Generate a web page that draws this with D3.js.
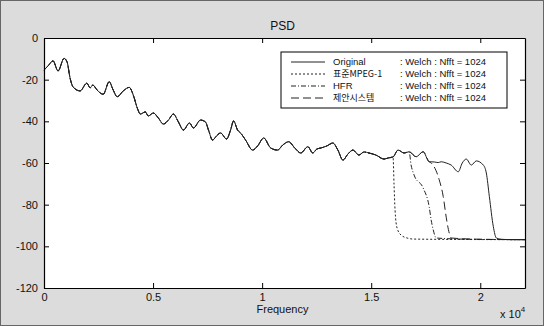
<!DOCTYPE html>
<html>
<head>
<meta charset="utf-8">
<script src="https://cdn.jsdelivr.net/npm/d3@7/dist/d3.min.js"></script>
<style>
  body { margin: 0; background: #fff; }
  svg { display: block; }
  text { font-family: "Liberation Sans", Arial, sans-serif; fill: #111; }
  .kr { font-family: "Noto Sans CJK KR", "Liberation Sans", sans-serif; }
</style>
</head>
<body>
<div id="chart"></div>
<script>
// PSD of the original signal (Hz, dB)
const freqOriginal = [0, 184, 414, 644, 920, 1058, 1195, 1333, 1655, 1963, 2115, 2239, 2437, 2713, 2989, 3173,
  3357, 3632, 3908, 4092, 4276, 4414, 4644, 4782, 5012, 5242, 5472, 5702, 5932, 6161, 6391, 6667, 6851, 7173,
  7403, 7541, 7725, 7909, 8093, 8369, 8553, 8691, 8875, 9013, 9242, 9564, 9794, 10070, 10392, 10713, 10943,
  11219, 11495, 11771, 12093, 12323, 12507, 12691, 12967, 13242, 13472, 13702, 13932, 14162, 14438, 14668,
  14897, 15219, 15587, 15771, 16001, 16231, 16507, 16737, 17059, 17381, 17657, 17887, 18070, 18208, 18438,
  18668, 18990, 19174, 19358, 19588, 19818, 20139, 20277, 20415, 20599, 20737, 20967, 21500, 22050];
const dbOriginal = [-15.4, -13.4, -11, -15.8, -9.8, -11.5, -19.2, -23.5, -25.4, -21.7, -23.9, -22.6, -25, -27, -21, -25,
  -28.2, -25.4, -23.7, -27.4, -33.6, -36.5, -35.5, -37.4, -36, -38.4, -41.3, -39.4, -36.5, -40.3, -44.2, -40.8, -43.2, -39.4,
  -40.3, -44.2, -49, -47, -45.6, -48.5, -44.2, -39.8, -44.2, -45.6, -49, -53.8, -51.8, -48, -52.8, -53.8, -51.4,
  -49.8, -52.8, -55.2, -52.2, -55.2, -53.3, -52.8, -51.8, -50.4, -53.8, -58.6, -55.7, -53.8, -56.2, -54.7,
  -55.2, -56.2, -58.1, -57.6, -57.1, -53.8, -55.2, -54.6, -57, -54.6, -59.4, -59.5, -59.8, -59.4, -60,
  -61, -64.2, -60, -58.1, -61, -59, -61, -64.8, -76, -90.6, -96, -96.6, -96.8, -96.8];

// the coded versions follow the original, then roll off (Hz, dB)
const freqMpegTail = [16047, 16093, 16185, 16369, 16645, 16921, 19000, 22050];
const dbMpegTail = [-70.6, -82.6, -91.2, -94.6, -96, -96.5, -96.7, -96.8];
const freqHfrTail = [16829, 16967, 17381, 17657, 17749, 17841, 17979, 19500, 22050];
const dbHfrTail = [-61, -65.8, -72, -81, -87.4, -92, -96, -96.6, -96.8];
const freqProposedTail = [17749, 18116, 18300, 18438, 18576, 18668, 20000, 22050];
const dbProposedTail = [-60, -68, -76, -86, -93.6, -96, -96.6, -96.8];

const seriesNames = ["Original", "표준MPEG-1", "HFR", "제안시스템"];
const legendNote = ": Welch : Nfft = 1024";
const xTicks = [0, 5000, 10000, 15000, 20000];
const xTickLabels = ["0", "0.5", "1", "1.5", "2"];
const yTicks = [0, -20, -40, -60, -80, -100, -120];

const width = 544, height = 326;
const margin = { top: 38, right: 19, bottom: 38, left: 44 };
const plotW = width - margin.left - margin.right;
const plotH = height - margin.top - margin.bottom;

const svg = d3.select("#chart").append("svg")
  .attr("width", width)
  .attr("height", height);

// scanned-looking figure background
svg.append("rect")
  .attr("width", width).attr("height", height)
  .attr("fill", "#dcdcdc")
  .attr("stroke", "#666").attr("stroke-width", 2);

const g = svg.append("g")
  .attr("transform", "translate(" + margin.left + "," + margin.top + ")");

g.append("rect").attr("width", plotW).attr("height", plotH).attr("fill", "#fff");

const x = d3.scaleLinear().domain([0, 22050]).range([0, plotW]);
const y = d3.scaleLinear().domain([-120, 0]).range([plotH, 0]);

const zip = (fs, ds) => fs.map((f, i) => ({ f: f, db: ds[i] }));
const original = zip(freqOriginal, dbOriginal);
const withTail = (fs, ds) => original.filter(d => d.f < fs[0]).concat(zip(fs, ds));

const series = [
  { name: seriesNames[0], values: original, dash: null },
  { name: seriesNames[1], values: withTail(freqMpegTail, dbMpegTail), dash: "2,2" },
  { name: seriesNames[2], values: withTail(freqHfrTail, dbHfrTail), dash: "5,2,1,2" },
  { name: seriesNames[3], values: withTail(freqProposedTail, dbProposedTail), dash: "8,4" }
];

const line = d3.line()
  .x(d => x(d.f))
  .y(d => y(d.db))
  .curve(d3.curveMonotoneX);

g.selectAll(".series")
  .data(series)
  .enter()
  .append("path")
  .attr("class", "series")
  .attr("d", d => line(d.values))
  .attr("fill", "none")
  .attr("stroke", "#222")
  .attr("stroke-width", 1)
  .attr("stroke-dasharray", d => d.dash);

// axes, MATLAB style: box with inward ticks on all sides
const styleAxis = sel => {
  sel.selectAll("path, line").attr("stroke", "#000");
  sel.selectAll("text").style("font-size", "11px").attr("fill", "#111");
};

g.append("g")
  .attr("transform", "translate(0," + plotH + ")")
  .call(d3.axisBottom(x).tickValues(xTicks).tickFormat((d, i) => xTickLabels[i])
    .tickSizeInner(-5).tickSizeOuter(0).tickPadding(5))
  .call(styleAxis);

g.append("g")
  .call(d3.axisTop(x).tickValues(xTicks).tickFormat("")
    .tickSizeInner(-5).tickSizeOuter(0))
  .call(styleAxis);

g.append("g")
  .call(d3.axisLeft(y).tickValues(yTicks).tickFormat(d => String(d))
    .tickSizeInner(-5).tickSizeOuter(0).tickPadding(6))
  .call(styleAxis);

g.append("g")
  .attr("transform", "translate(" + plotW + ",0)")
  .call(d3.axisRight(y).tickValues(yTicks).tickFormat("")
    .tickSizeInner(-5).tickSizeOuter(0))
  .call(styleAxis);

g.selectAll(".domain").attr("stroke-width", 1.2);

// title and labels
svg.append("text")
  .attr("x", margin.left + plotW / 2 - 2).attr("y", 30)
  .attr("text-anchor", "middle")
  .style("font-size", "12px")
  .text("PSD");

svg.append("text")
  .attr("x", margin.left + plotW / 2 - 2).attr("y", 313)
  .attr("text-anchor", "middle")
  .style("font-size", "11px")
  .text("Frequency");

const mult = svg.append("text")
  .attr("x", 500).attr("y", 318)
  .style("font-size", "11px");
mult.append("tspan").text("x 10");
mult.append("tspan").attr("dy", -6).style("font-size", "8px").text("4");

// legend
const legend = svg.append("g").attr("transform", "translate(281,52)");
legend.append("rect")
  .attr("width", 226).attr("height", 56)
  .attr("fill", "#fff").attr("stroke", "#000").attr("stroke-width", 1);

const rows = legend.selectAll(".row")
  .data(series)
  .enter()
  .append("g")
  .attr("class", "row")
  .attr("transform", (d, i) => "translate(0," + (10 + i * 12) + ")");

rows.append("line")
  .attr("x1", 10).attr("x2", 44)
  .attr("stroke", "#222").attr("stroke-width", 1)
  .attr("stroke-dasharray", d => d.dash);

rows.append("text")
  .attr("x", 52).attr("dy", "0.35em")
  .attr("class", (d, i) => i % 2 ? "kr" : null)
  .style("font-size", (d, i) => i % 2 ? "9px" : "9.5px")
  .text(d => d.name);

rows.append("text")
  .attr("x", 119).attr("dy", "0.35em")
  .style("font-size", "9.5px")
  .text(legendNote);
</script>
</body>
</html>
